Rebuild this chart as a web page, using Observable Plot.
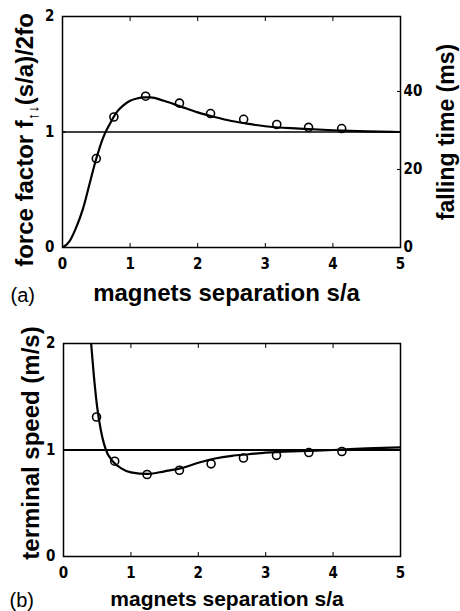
<!DOCTYPE html>
<html><head><meta charset="utf-8">
<script src="https://cdn.jsdelivr.net/npm/d3@7"></script>
<script src="https://cdn.jsdelivr.net/npm/@observablehq/plot@0.6"></script>
<style>
body{margin:0;background:#fff;}
#chart{width:460px;}
#chart svg{display:block;}
</style></head><body><div id="chart"></div>
<script>
// ---- data ----
const xTicks = [0, 1, 2, 3, 4, 5];
const yTicks = [0, 1, 2];
const fallTicks = [0, 20, 40];
const fallMax = 59.2;          // ms at top of panel (a)
const refLevel = [1];

const forceCurveX = [0, 0.1, 0.2, 0.3, 0.4, 0.5, 0.6, 0.7, 0.8, 0.9, 1.0, 1.1, 1.2, 1.3, 1.5, 1.75, 2.0, 2.25, 2.5, 2.75, 3.0, 3.5, 4.0, 4.5, 5.0];
const forceCurveY = [0, 0.05, 0.17, 0.33, 0.55, 0.77, 0.95, 1.07, 1.17, 1.23, 1.27, 1.29, 1.30, 1.30, 1.27, 1.22, 1.17, 1.13, 1.095, 1.07, 1.05, 1.03, 1.015, 1.005, 1.0];
const forceObsX = [0.5, 0.76, 1.23, 1.73, 2.19, 2.68, 3.17, 3.64, 4.13];
const forceObsY = [0.77, 1.13, 1.31, 1.25, 1.16, 1.11, 1.065, 1.04, 1.03];

const speedCurveX = [0.41, 0.45, 0.5, 0.55, 0.6, 0.65, 0.7, 0.75, 0.85, 1.0, 1.25, 1.5, 1.75, 2.0, 2.25, 2.5, 2.75, 3.0, 3.5, 4.0, 4.5, 5.0];
const speedCurveY = [2.0, 1.7, 1.40, 1.2, 1.06, 0.97, 0.92, 0.88, 0.83, 0.79, 0.775, 0.80, 0.83, 0.88, 0.92, 0.945, 0.96, 0.975, 0.99, 1.0, 1.015, 1.025];
const speedObsX = [0.49, 0.76, 1.24, 1.72, 2.19, 2.67, 3.16, 3.64, 4.13];
const speedObsY = [1.31, 0.895, 0.77, 0.81, 0.87, 0.925, 0.95, 0.976, 0.986];

const labels = {
  x: "magnets separation s/a",
  yA: "force factor f\u2191\u2193(s/a)/2fo",
  yA2: "falling time (ms)",
  yB: "terminal speed (m/s)",
  a: "(a)",
  b: "(b)"
};

const tickFont = {fontFamily: "'Liberation Sans Narrow','Arial Narrow','DejaVu Sans Condensed',sans-serif", fontWeight: "bold", fontSize: 15};
const labFont = "'Liberation Sans',Arial,Helvetica,sans-serif";

function zip(xs, ys) { return xs.map((x, i) => ({x, y: ys[i]})); }

function panel(o) {
  const marks = [
    Plot.ruleY(refLevel, {stroke: "#000", strokeWidth: o.refW}),
    Plot.line(o.curve, {x: "x", y: "y", curve: "monotone-x", stroke: "#000", strokeWidth: 2.2, clip: true}),
    Plot.dot(o.obs, {x: "x", y: "y", r: 4, stroke: "#000", strokeWidth: 1.6, fill: "none"}),
    Plot.frame({stroke: "#000", strokeWidth: 1.5}),
    Plot.axisX({anchor: "bottom", ticks: xTicks, tickFormat: d => String(d), tickSize: -4, tickPadding: 15, label: null, ...tickFont}),
    Plot.axisX({anchor: "top", ticks: xTicks, tickSize: -4, tickFormat: () => "", label: null}),
    Plot.axisY({anchor: "left", ticks: yTicks, tickFormat: d => String(d), tickSize: -4, tickPadding: 12, label: null, ...tickFont}),
    Plot.text([labels.x], {frameAnchor: "bottom", dx: -5, dy: o.xLabDy, fontSize: o.xLabSize, fontWeight: "bold", fontFamily: labFont, textAnchor: "middle", lineAnchor: "middle"}),
    Plot.text([o.tag], {frameAnchor: "bottom-left", dx: o.tagDx, dy: o.tagDy, textAnchor: "start", fontSize: 20, fontFamily: labFont, lineAnchor: "middle"}),
    Plot.text([o.yLab], {frameAnchor: "left", rotate: -90, dx: o.yLabDx, dy: o.yLabDy, fontSize: 24, fontWeight: "bold", fontFamily: labFont, textAnchor: "middle", lineAnchor: "middle"})
  ];
  if (o.right) {
    marks.push(Plot.axisY({anchor: "right", ticks: fallTicks.map(t => t * 2 / fallMax), tickFormat: d => String(Math.round(d * fallMax / 2)), tickSize: -4, tickPadding: 7, label: null, ...tickFont}));
    marks.push(Plot.text([labels.yA2], {frameAnchor: "right", rotate: -90, dx: 46, dy: 0, fontSize: 23, fontWeight: "bold", fontFamily: labFont, textAnchor: "middle", lineAnchor: "middle"}));
  } else {
    marks.push(Plot.axisY({anchor: "right", ticks: yTicks, tickSize: -4, tickFormat: () => "", label: null}));
  }
  return Plot.plot({
    width: 460, height: o.height,
    marginLeft: o.ml, marginRight: 460 - 400, marginTop: o.mt, marginBottom: o.mb,
    x: {domain: [0, 5]},
    y: {domain: [0, 2]},
    style: {background: "#fff", color: "#000", overflow: "visible"},
    marks
  });
}

const pa = panel({
  height: 305, ml: 62, mt: 16, mb: 305 - 247,
  curve: zip(forceCurveX, forceCurveY), obs: zip(forceObsX, forceObsY), refW: 1.3,
  xLabDy: 46, xLabSize: 24, tag: labels.a, tagDx: -52, tagDy: 48,
  yLab: labels.yA, yLabDx: -37, yLabDy: 8, right: true
});
const pb = panel({
  height: 306, ml: 63, mt: 38, mb: 306 - 251,
  curve: zip(speedCurveX, speedCurveY), obs: zip(speedObsX, speedObsY), refW: 2,
  xLabDy: 43, xLabSize: 21, tag: labels.b, tagDx: -54, tagDy: 44,
  yLab: labels.yB, yLabDx: -32, yLabDy: -7, right: false
});
document.getElementById("chart").append(pa, pb);

// render the subscript arrows in the force-factor label
d3.select(pa).selectAll("text").filter(function () { return this.textContent === labels.yA; }).each(function () {
  const t = d3.select(this);
  t.text(null);
  t.append("tspan").text("force factor f");
  t.append("tspan").attr("font-size", 15).attr("dy", 5).text("\u2191\u2193");
  t.append("tspan").attr("dy", -5).text("(s/a)/2fo");
});
</script></body></html>
